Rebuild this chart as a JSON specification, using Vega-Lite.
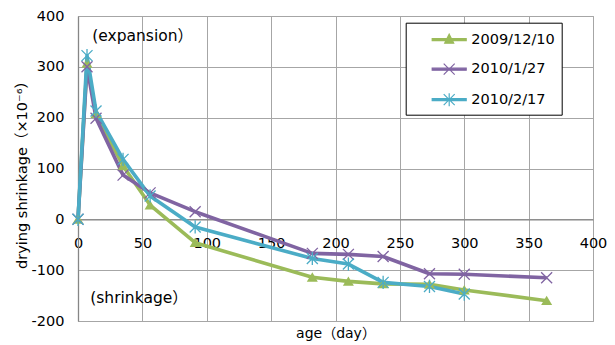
{
  "$schema": "https://vega.github.io/schema/vega-lite/v6.json",
  "width": 515,
  "height": 305,
  "autosize": "none",
  "padding": {"left": 78, "top": 16, "right": 22, "bottom": 24},
  "background": "white",
  "config": {
    "font": "DejaVu Sans, Noto Sans CJK JP",
    "view": {"stroke": "#A6A6A6", "strokeWidth": 1},
    "axis": {"gridColor": "#A6A6A6", "gridWidth": 1, "gridOpacity": 1, "ticks": false, "labelFontSize": 14.5, "labelColor": "#000", "titleColor": "#000", "titleFontWeight": "normal", "titleFontSize": 14, "domainColor": "#868686", "domainWidth": 1.3, "labelFlush": false, "labelOverlap": false}
  },
  "datasets": {
    "series": [
      {"series": "2009/12/10", "age": 0, "value": 0},
      {"series": "2009/12/10", "age": 7, "value": 307},
      {"series": "2009/12/10", "age": 14, "value": 208},
      {"series": "2009/12/10", "age": 35, "value": 105},
      {"series": "2009/12/10", "age": 56, "value": 28},
      {"series": "2009/12/10", "age": 91, "value": -46},
      {"series": "2009/12/10", "age": 182, "value": -114},
      {"series": "2009/12/10", "age": 210, "value": -122},
      {"series": "2009/12/10", "age": 237, "value": -127},
      {"series": "2009/12/10", "age": 273, "value": -128},
      {"series": "2009/12/10", "age": 300, "value": -139},
      {"series": "2009/12/10", "age": 364, "value": -160},
      {"series": "2010/1/27", "age": 0, "value": 0},
      {"series": "2010/1/27", "age": 7, "value": 300},
      {"series": "2010/1/27", "age": 14, "value": 199},
      {"series": "2010/1/27", "age": 35, "value": 87},
      {"series": "2010/1/27", "age": 56, "value": 52},
      {"series": "2010/1/27", "age": 91, "value": 15},
      {"series": "2010/1/27", "age": 182, "value": -67},
      {"series": "2010/1/27", "age": 210, "value": -69},
      {"series": "2010/1/27", "age": 237, "value": -73},
      {"series": "2010/1/27", "age": 273, "value": -107},
      {"series": "2010/1/27", "age": 300, "value": -108},
      {"series": "2010/1/27", "age": 364, "value": -115},
      {"series": "2010/2/17", "age": 0, "value": 0},
      {"series": "2010/2/17", "age": 7, "value": 322},
      {"series": "2010/2/17", "age": 14, "value": 213},
      {"series": "2010/2/17", "age": 35, "value": 118},
      {"series": "2010/2/17", "age": 56, "value": 46},
      {"series": "2010/2/17", "age": 91, "value": -15},
      {"series": "2010/2/17", "age": 182, "value": -77},
      {"series": "2010/2/17", "age": 210, "value": -88},
      {"series": "2010/2/17", "age": 237, "value": -124},
      {"series": "2010/2/17", "age": 273, "value": -132},
      {"series": "2010/2/17", "age": 300, "value": -147}
    ],
    "notes": [
      {"note": "(expansion）", "age": 11, "value": 361},
      {"note": "(shrinkage）", "age": 9.5, "value": -154}
    ]
  },
  "layer": [
    {
      "data": {"name": "series"},
      "mark": {"type": "line", "strokeWidth": 3.6, "strokeJoin": "round"},
      "encoding": {
        "x": {"field": "age", "type": "quantitative", "scale": {"domain": [0, 400], "nice": false},
          "axis": {"title": "age（day）", "values": [0, 50, 100, 150, 200, 250, 300, 350, 400], "offset": -101.67, "labelPadding": 17, "titleY": 114, "titleBaseline": "middle", "domain": true}},
        "y": {"field": "value", "type": "quantitative", "scale": {"domain": [-200, 400], "nice": false},
          "axis": {"title": "drying shrinkage（×10⁻⁶）", "values": [-200, -100, 0, 100, 200, 300, 400], "labelExpr": "'' + datum.value", "labelPadding": 14, "titleX": -56, "titleY": 155, "titleBaseline": "middle", "titleAlign": "center", "titleFontSize": 14.5, "domain": true}},
        "color": {"field": "series", "type": "nominal",
          "scale": {"domain": ["2009/12/10", "2010/1/27", "2010/2/17"], "range": ["#9BBB59", "#8064A2", "#4BACC6"]},
          "legend": {
            "title": null, "orient": "none", "legendX": 327.7, "legendY": 6.7,
            "padding": 6, "strokeColor": "#000", "fillColor": "#fff",
            "symbolSize": 400, "symbolOffset": 33.5, "labelOffset": 4, "rowPadding": 11.5,
            "labelFontSize": 14.5, "labelColor": "#000",
            "labelExpr": "datum.label + '     '",
            "encode": {
              "symbols": {
                "update": {
                  "shape": {"signal": "datum.value === '2009/12/10' ? 'M-2.4,-0.1H1V0.1H-2.4ZM-0.7,-0.55L-0.25,0.35L-1.15,0.35Z' : datum.value === '2010/1/27' ? 'M-2.4,-0.1H1V0.1H-2.4ZM-1.25,-0.55L-0.15,0.55M-1.25,0.55L-0.15,-0.55' : 'M-2.4,-0.1H1V0.1H-2.4ZM-1.25,-0.55L-0.15,0.55M-1.25,0.55L-0.15,-0.55M-0.7,-0.65V0.65'"},
                  "fill": {"signal": "scale('color', datum.value)"},
                  "stroke": {"signal": "scale('color', datum.value)"},
                  "strokeWidth": {"value": 1.2},
                  "opacity": {"value": 1}
                }
              }
            }
          }}
      }
    },
    {
      "data": {"name": "series"},
      "transform": [{"filter": "datum.series === '2009/12/10'"}],
      "mark": {"type": "point", "shape": "M0,-0.9L1,0.8L-1,0.8Z", "size": 121, "filled": true, "color": "#9BBB59", "opacity": 1},
      "encoding": {
        "x": {"field": "age", "type": "quantitative"},
        "y": {"field": "value", "type": "quantitative"}
      }
    },
    {
      "data": {"name": "series"},
      "transform": [{"filter": "datum.series === '2010/1/27'"}],
      "mark": {"type": "point", "shape": "M-1,-1L1,1M-1,1L1,-1", "size": 121, "filled": false, "color": "#8064A2", "strokeWidth": 1.3, "opacity": 1},
      "encoding": {
        "x": {"field": "age", "type": "quantitative"},
        "y": {"field": "value", "type": "quantitative"}
      }
    },
    {
      "data": {"name": "series"},
      "transform": [{"filter": "datum.series === '2010/2/17'"}],
      "mark": {"type": "point", "shape": "M-1,-1L1,1M-1,1L1,-1M0,-1.2V1.2", "size": 121, "filled": false, "color": "#4BACC6", "strokeWidth": 1.3, "opacity": 1},
      "encoding": {
        "x": {"field": "age", "type": "quantitative"},
        "y": {"field": "value", "type": "quantitative"}
      }
    },
    {
      "data": {"name": "notes"},
      "mark": {"type": "text", "align": "left", "baseline": "middle", "fontSize": 15.5, "color": "#000"},
      "encoding": {
        "x": {"field": "age", "type": "quantitative"},
        "y": {"field": "value", "type": "quantitative"},
        "text": {"field": "note"}
      }
    }
  ]
}
